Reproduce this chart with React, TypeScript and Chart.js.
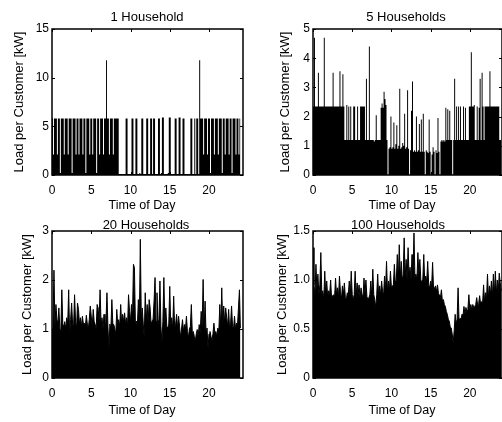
import React, { useEffect, useRef } from "react";
import { Chart, registerables } from "chart.js";

Chart.register(...registerables);

const STEP_HOURS = 0.125;
const xTickValues = [0, 5, 10, 15, 20];
const xLabel = "Time of Day";
const yLabel = "Load per Customer [kW]";
const panelTitles = ["1 Household", "5 Households", "20 Households", "100 Households"];

const load1Household = [
  5.8, 5.8, 2.1, 5.8, 5.8, 5.8, 2.1, 5.8, 5.8, 0.2,
  5.8, 5.8, 5.8, 2.1, 5.8, 5.8, 5.8, 2.1, 5.8, 5.8,
  5.8, 0.2, 5.8, 5.8, 5.8, 2.1, 5.8, 5.8, 2.1, 5.8,
  5.8, 5.8, 2.1, 5.8, 5.8, 0.2, 5.8, 5.8, 5.8, 2.1,
  5.8, 5.8, 2.1, 5.8, 5.8, 5.8, 0.2, 5.8, 5.8, 2.1,
  5.8, 5.8, 5.8, 2.1, 5.8, 5.8, 11.8, 5.8, 5.8, 2.1,
  5.8, 5.8, 5.8, 2.1, 5.8, 5.8, 5.8, 5.8, 5.8, 0.1,
  0.1, 0.1, 0.1, 0.1, 0.1, 0.1, 5.8, 5.8, 0.1, 0.1,
  0.1, 0.1, 5.8, 5.8, 0.1, 0.1, 5.8, 5.8, 0.1, 0.1,
  0.2, 0.1, 5.8, 5.8, 0.1, 0.1, 0.1, 5.8, 5.8, 0.1,
  0.1, 5.8, 5.8, 0.1, 5.8, 5.8, 0.1, 0.1, 0.1, 5.8,
  5.8, 0.1, 0.2, 5.9, 5.9, 0.1, 0.1, 0.1, 0.1, 0.2,
  5.9, 5.9, 0.1, 0.1, 0.1, 0.1, 5.8, 5.8, 0.1, 0.1,
  5.9, 5.9, 0.1, 0.1, 5.8, 5.8, 0.1, 0.1, 0.1, 0.1,
  0.1, 0.1, 5.8, 5.8, 0.1, 0.1, 5.8, 0.1, 5.8, 5.8,
  0.1, 11.8, 5.8, 5.8, 5.8, 2.1, 5.8, 5.8, 5.8, 2.1,
  5.8, 5.8, 0.2, 5.8, 5.8, 5.8, 2.1, 5.8, 5.8, 5.8,
  2.1, 5.8, 5.8, 5.8, 0.2, 5.8, 5.8, 2.1, 5.8, 5.8,
  5.8, 2.1, 5.8, 5.8, 0.2, 5.8, 5.8, 5.8, 2.1, 5.8,
  5.8, 2.1, 5.8,
];

const load5Households = [
  2.35, 2.35, 4.7, 2.35, 2.35, 2.35, 3.5, 2.35, 2.35, 2.35,
  2.35, 2.35, 4.7, 2.35, 2.35, 2.35, 2.35, 2.35, 2.35, 2.35,
  2.35, 3.5, 2.35, 2.35, 2.35, 2.35, 2.35, 2.35, 3.55, 2.35,
  2.35, 3.45, 2.35, 1.2, 1.2, 2.4, 1.2, 2.35, 1.2, 2.35,
  1.2, 1.2, 2.35, 2.35, 1.2, 1.2, 2.35, 1.2, 1.2, 2.35,
  2.35, 2.35, 2.35, 2.35, 1.2, 3.3, 1.2, 1.2, 4.4, 1.2,
  1.2, 1.2, 1.2, 1.15, 1.2, 2.05, 1.2, 1.2, 1.2, 1.2,
  2.3, 2.45, 2.3, 2.85, 2.6, 2.4, 1.2, 0, 0.9, 0.95,
  2.0, 0.9, 0.95, 1.8, 0.9, 1.05, 1.7, 0.9, 1.0, 2.95,
  0.9, 0.95, 1.1, 1.0, 2.1, 0.9, 0.95, 2.9, 0.9, 0,
  0.85, 2.2, 3.2, 0.8, 0.85, 0.8, 2.0, 0.8, 0.85, 1.75,
  0.8, 1.9, 0.8, 2.1, 0.8, 0, 0.85, 0.8, 0.75, 1.9,
  0.8, 0, 0.7, 0.95, 0.8, 0, 0.85, 0.75, 1.95, 0.8,
  0, 1.15, 1.2, 1.15, 1.2, 1.15, 2.3, 1.2, 2.25, 1.2,
  2.2, 1.2, 1.2, 0, 1.2, 3.3, 1.2, 2.35, 1.2, 2.35,
  1.2, 2.35, 1.2, 1.2, 2.35, 1.2, 2.3, 1.2, 1.2, 1.2,
  2.35, 2.35, 4.2, 2.35, 2.35, 2.4, 1.2, 1.2, 2.35, 1.2,
  2.3, 3.3, 1.2, 3.5, 2.35, 1.2, 2.35, 2.35, 2.35, 2.35,
  2.35, 3.55, 2.35, 2.35, 2.35, 2.35, 2.35, 2.35, 2.35, 2.35,
  2.35, 1.2, 1.2,
];

const load20Households = [
  1.0, 1.1, 2.2, 1.05, 1.5, 1.2, 1.1, 1.43, 1.0, 0.95,
  1.8, 1.1, 1.05, 1.15, 1.0, 1.23, 1.1, 1.8, 0.85, 1.2,
  1.53, 1.1, 1.05, 1.7, 1.16, 1.0, 1.53, 1.4, 1.1, 1.23,
  1.05, 1.26, 1.1, 1.12, 1.05, 1.28, 1.1, 1.0, 1.2, 1.47,
  1.26, 1.05, 1.4, 1.15, 1.09, 1.0, 1.5, 1.43, 1.15, 1.8,
  1.1, 1.23, 1.0, 1.3, 1.02, 1.15, 1.74, 1.05, 0.61, 1.1,
  1.0, 1.6, 1.1, 1.09, 1.0, 0.89, 1.4, 1.1, 1.19, 1.05,
  1.5, 1.1, 1.3, 1.15, 1.33, 1.1, 1.23, 1.05, 1.7, 1.36,
  1.15, 1.5, 1.2, 2.32, 2.25, 1.1, 1.16, 1.05, 1.6, 1.1,
  2.83, 1.2, 1.43, 1.1, 0.82, 1.74, 1.15, 1.5, 1.1, 1.6,
  1.43, 1.1, 1.16, 1.2, 1.57, 2.05, 1.15, 1.74, 1.09, 1.2,
  1.98, 1.05, 0.72, 1.15, 2.05, 1.1, 1.43, 1.05, 1.02, 1.1,
  1.87, 1.05, 1.23, 1.0, 1.67, 1.02, 1.1, 1.3, 1.0, 1.26,
  1.05, 0.82, 1.0, 1.19, 0.95, 1.09, 1.0, 1.26, 0.95, 0.82,
  1.0, 1.05, 1.5, 0.9, 0.95, 0.85, 0.75, 0.9, 0.99, 0.85,
  1.09, 0.9, 1.36, 1.0, 2.01, 0.95, 1.57, 0.9, 1.02, 0.61,
  0.9, 0.95, 0.85, 0.75, 0.9, 1.12, 0.9, 0.95, 0.85, 1.02,
  0.95, 1.5, 1.0, 1.84, 1.05, 1.47, 1.1, 1.43, 1.23, 1.05,
  1.4, 1.0, 1.12, 1.47, 1.05, 1.02, 1.26, 1.0, 1.12, 1.05,
  1.43, 1.8, 1.02,
];

const load100Households = [
  1.33, 0.95, 0.85, 1.16, 0.9, 1.06, 0.85, 0.95, 1.28, 0.85,
  0.89, 0.8, 1.09, 0.85, 0.99, 0.82, 0.89, 0.85, 1.0, 0.8,
  0.84, 0.85, 0.82, 1.02, 0.85, 0.92, 0.82, 1.04, 0.88, 0.8,
  0.94, 0.85, 0.97, 0.82, 0.8, 0.87, 0.85, 0.99, 0.83, 1.09,
  0.85, 0.8, 0.85, 1.09, 0.83, 0.97, 0.85, 0.95, 0.82, 0.92,
  0.85, 0.8, 1.02, 0.85, 1.0, 0.83, 0.8, 0.82, 0.85, 0.99,
  0.82, 1.11, 0.85, 0.8, 0.72, 0.85, 1.06, 0.83, 0.94, 0.85,
  0.99, 0.88, 0.85, 1.04, 0.9, 1.19, 0.88, 0.99, 0.9, 1.09,
  0.92, 0.94, 0.95, 1.16, 0.97, 1.0, 1.26, 0.98, 1.36, 1.02,
  1.19, 1.0, 1.05, 1.43, 1.02, 1.21, 1.0, 1.33, 1.05, 1.13,
  1.0, 1.26, 1.05, 1.48, 1.02, 1.06, 1.0, 1.28, 1.05, 1.21,
  1.0, 0.98, 1.0, 1.26, 0.97, 1.04, 0.98, 1.19, 0.95, 0.92,
  0.99, 0.93, 1.18, 0.9, 0.92, 0.94, 0.88, 0.95, 0.86, 0.85,
  0.82, 0.9, 0.78, 0.8, 0.75, 0.73, 0.68, 0.65, 0.6, 0.58,
  0.52, 0.51, 0.45, 0.36, 0.48, 0.65, 0.55, 0.6, 0.92, 0.58,
  0.61, 0.6, 0.65, 0.63, 0.73, 0.65, 0.72, 0.68, 0.7, 0.85,
  0.7, 0.75, 0.7, 0.75, 0.72, 0.73, 0.75, 0.82, 0.74, 0.76,
  0.84, 0.75, 0.78, 0.76, 0.95, 0.78, 0.87, 0.8, 1.06, 0.82,
  0.94, 0.85, 0.99, 0.82, 1.06, 0.85, 1.09, 0.86, 1.0, 0.88,
  1.07, 0.97, 0.89,
];

const FONT = '"Liberation Sans", Arial, Helvetica, sans-serif';
const CANVAS_W = 502;
const CANVAS_H = 422;
const Y_AXIS_W = 40;
const X_AXIS_H = 30;

type Panel = {
  values: number[];
  title: string;
  yMax: number;
  yStep: number;
  stepped: boolean;
  lineWidth: number;
  area: { left: number; right: number; top: number; bottom: number };
  xMax: number;
  titleX: number;
  titleY: number;
  xLabelX: number;
  xLabelY: number;
  yLabelX: number;
};

const PANELS: Panel[] = [
  {
    values: load1Household, title: panelTitles[0], yMax: 15, yStep: 5, stepped: true, lineWidth: 0,
    area: { left: 52, right: 243, top: 29, bottom: 175 }, xMax: 24.33,
    titleX: 147, titleY: 17, xLabelX: 142, xLabelY: 206, yLabelX: 19,
  },
  {
    values: load5Households, title: panelTitles[1], yMax: 5, yStep: 1, stepped: true, lineWidth: 0,
    area: { left: 313, right: 502, top: 29, bottom: 175 }, xMax: 24.1,
    titleX: 406, titleY: 17, xLabelX: 402, xLabelY: 206, yLabelX: 285,
  },
  {
    values: load20Households, title: panelTitles[2], yMax: 3, yStep: 1, stepped: false, lineWidth: 1,
    area: { left: 52, right: 243, top: 231, bottom: 378 }, xMax: 24.33,
    titleX: 146, titleY: 225, xLabelX: 142, xLabelY: 411, yLabelX: 27,
  },
  {
    values: load100Households, title: panelTitles[3], yMax: 1.5, yStep: 0.5, stepped: false, lineWidth: 1,
    area: { left: 313, right: 502, top: 231, bottom: 378 }, xMax: 24.1,
    titleX: 398, titleY: 225, xLabelX: 402, xLabelY: 411, yLabelX: 282,
  },
];

function framePlugin(p: Panel) {
  return {
    id: "frame",
    afterDraw(chart: any) {
      const { ctx, chartArea: a, scales } = chart;
      ctx.save();
      ctx.strokeStyle = "#000";
      ctx.lineWidth = 1.5;
      ctx.strokeRect(a.left, a.top, a.right - a.left, a.bottom - a.top);
      ctx.lineWidth = 1;
      const tl = 3;
      ctx.beginPath();
      xTickValues.forEach((v) => {
        const x = Math.round(scales.x.getPixelForValue(v)) + 0.5;
        ctx.moveTo(x, a.bottom);
        ctx.lineTo(x, a.bottom - tl);
        ctx.moveTo(x, a.top);
        ctx.lineTo(x, a.top + tl);
      });
      scales.y.ticks.forEach((t: any) => {
        const y = Math.round(scales.y.getPixelForValue(t.value)) + 0.5;
        ctx.moveTo(a.left, y);
        ctx.lineTo(a.left + tl, y);
        ctx.moveTo(a.right, y);
        ctx.lineTo(a.right - tl, y);
      });
      ctx.stroke();

      ctx.fillStyle = "#000";
      ctx.textAlign = "center";
      ctx.textBaseline = "middle";
      ctx.font = `13px ${FONT}`;
      ctx.fillText(p.title, p.titleX, p.titleY);
      ctx.font = `12.5px ${FONT}`;
      ctx.fillText(xLabel, p.xLabelX, p.xLabelY);
      ctx.font = `13px ${FONT}`;
      ctx.translate(p.yLabelX, (a.top + a.bottom) / 2);
      ctx.rotate(-Math.PI / 2);
      ctx.fillText(yLabel, 0, 0);
      ctx.restore();
    },
  };
}

function makeConfig(p: Panel): any {
  const points = p.values.map((y, i) => ({ x: i * STEP_HOURS, y }));
  return {
    type: "line",
    data: {
      datasets: [
        {
          data: points,
          borderColor: p.lineWidth > 0 ? "#000" : "rgba(0,0,0,0)",
          backgroundColor: "#000",
          borderWidth: p.lineWidth > 0 ? p.lineWidth : 1,
          fill: "origin",
          pointRadius: 0,
          tension: 0,
          stepped: p.stepped ? "after" : false,
        },
      ],
    },
    options: {
      responsive: false,
      animation: false,
      devicePixelRatio: 1,
      events: [],
      layout: {
        padding: {
          left: p.area.left - Y_AXIS_W,
          right: CANVAS_W - p.area.right,
          top: p.area.top,
          bottom: CANVAS_H - p.area.bottom - X_AXIS_H,
        },
      },
      plugins: {
        legend: { display: false },
        tooltip: { enabled: false },
        title: { display: false },
      },
      scales: {
        x: {
          type: "linear",
          min: 0,
          max: p.xMax,
          grid: { display: false, drawTicks: false },
          border: { display: false },
          ticks: {
            padding: 8,
            color: "#000",
            font: { family: FONT, size: 12 },
            maxRotation: 0,
            autoSkip: false,
          },
          afterBuildTicks: (s: any) => {
            s.ticks = xTickValues.map((v) => ({ value: v }));
          },
          afterFit: (s: any) => {
            s.height = X_AXIS_H;
          },
        },
        y: {
          type: "linear",
          min: 0,
          max: p.yMax,
          grid: { display: false, drawTicks: false },
          border: { display: false },
          ticks: {
            stepSize: p.yStep,
            padding: 3,
            color: "#000",
            font: { family: FONT, size: 12 },
          },
          afterFit: (s: any) => {
            s.width = Y_AXIS_W;
          },
        },
      },
    },
    plugins: [framePlugin(p)],
  };
}

export default function App() {
  const canvases = useRef<(HTMLCanvasElement | null)[]>([]);
  useEffect(() => {
    const charts = PANELS.map((p, k) => new Chart(canvases.current[k] as HTMLCanvasElement, makeConfig(p)));
    return () => charts.forEach((c) => c.destroy());
  }, []);
  return (
    <div style={{ position: "fixed", left: 0, top: 0, width: CANVAS_W, height: CANVAS_H, background: "#fff", overflow: "hidden" }}>
      {PANELS.map((p, k) => (
        <canvas
          key={k}
          ref={(el) => {
            canvases.current[k] = el;
          }}
          width={CANVAS_W}
          height={CANVAS_H}
          style={{ position: "absolute", left: 0, top: 0 }}
        />
      ))}
    </div>
  );
}
